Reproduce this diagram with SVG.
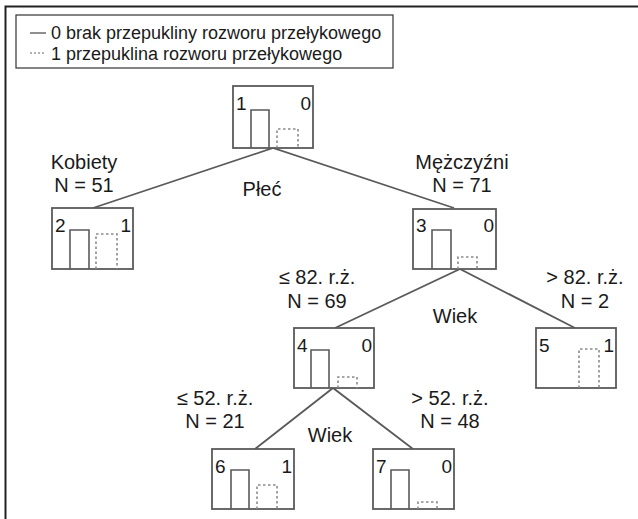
<svg xmlns="http://www.w3.org/2000/svg" width="638" height="519" viewBox="0 0 638 519">
<style>
text{font-family:"Liberation Sans",Arial,sans-serif;font-size:20px;fill:#1a1a1a}
.lg{font-size:18px}
.n{font-size:19px}
.c{text-anchor:middle}
.e{text-anchor:end}
.box{fill:#fff;stroke:#5a5a5a;stroke-width:1.8}
.bar{fill:none;stroke:#5a5a5a;stroke-width:1.6}
.dot{fill:none;stroke:#8a8a8a;stroke-width:1.6;stroke-dasharray:2.5,2.5}
.conn{fill:none;stroke:#5a5a5a;stroke-width:1.8}
</style>
<rect x="0" y="0" width="638" height="519" fill="#fff"/>
<path d="M5.5,525 V6.5 H645" fill="none" stroke="#222" stroke-width="2"/>
<g id="legend">
<rect x="16" y="15" width="377" height="53" fill="#fff" stroke="#333" stroke-width="1.2"/>
<line x1="30" y1="33" x2="46" y2="33" stroke="#444" stroke-width="1.2"/>
<line x1="30" y1="53" x2="46" y2="53" stroke="#666" stroke-width="1.2" stroke-dasharray="2,2"/>
<text class="lg" x="51" y="39">0 brak przepukliny rozworu przełykowego</text>
<text class="lg" x="51" y="60">1 przepuklina rozworu przełykowego</text>
</g>
<g id="connectors">
<polyline class="conn" points="93,208 273,148 454,208"/>
<polyline class="conn" points="335,328 460,269 575,328"/>
<polyline class="conn" points="255,449 333,388 413,449"/>
</g>
<g id="node1">
<rect class="box" x="233" y="86" width="80" height="62"/>
<text class="n" x="236" y="110">1</text><text class="n e" x="311" y="110">0</text>
<polyline class="bar" points="251,148 251,110 269,110 269,148"/>
<polyline class="dot" points="277,148 277,129 298,129 298,148"/>
</g>
<g id="node2">
<rect class="box" x="52" y="208" width="81" height="61"/>
<text class="n" x="55" y="232">2</text><text class="n e" x="131" y="232">1</text>
<polyline class="bar" points="70,269 70,230 89,230 89,269"/>
<polyline class="dot" points="96,269 96,234 117,234 117,269"/>
</g>
<g id="node3">
<rect class="box" x="413" y="209" width="83" height="60"/>
<text class="n" x="416" y="232">3</text><text class="n e" x="494" y="232">0</text>
<polyline class="bar" points="432,269 432,230 451,230 451,269"/>
<polyline class="dot" points="458,269 458,257 477,257 477,269"/>
</g>
<g id="node4">
<rect class="box" x="294" y="328" width="80" height="60"/>
<text class="n" x="297" y="352">4</text><text class="n e" x="372" y="352">0</text>
<polyline class="bar" points="311,388 311,350 329,350 329,388"/>
<polyline class="dot" points="338,388 338,377 357,377 357,388"/>
</g>
<g id="node5">
<rect class="box" x="536" y="328" width="80" height="60"/>
<text class="n" x="539" y="352">5</text><text class="n e" x="614" y="352">1</text>
<polyline class="dot" points="579,388 579,349 599,349 599,388"/>
</g>
<g id="node6">
<rect class="box" x="212" y="449" width="82" height="60"/>
<text class="n" x="215" y="473">6</text><text class="n e" x="292" y="473">1</text>
<polyline class="bar" points="231,509 231,470 249,470 249,509"/>
<polyline class="dot" points="257,509 257,485 277,485 277,509"/>
</g>
<g id="node7">
<rect class="box" x="373" y="449" width="81" height="60"/>
<text class="n" x="376" y="473">7</text><text class="n e" x="452" y="473">0</text>
<polyline class="bar" points="391,509 391,470 409,470 409,509"/>
<polyline class="dot" points="418,509 418,502 437,502 437,509"/>
</g>
<g id="labels">
<text class="c" x="84" y="169">Kobiety</text>
<text class="c" x="84" y="192">N = 51</text>
<text class="c" x="262" y="196">Płeć</text>
<text class="c" x="462" y="169">Mężczyźni</text>
<text class="c" x="462" y="192">N = 71</text>
<text class="c" x="317" y="284">≤ 82. r.ż.</text>
<text class="c" x="317" y="308">N = 69</text>
<text class="c" x="455" y="323">Wiek</text>
<text class="c" x="585" y="284">&gt; 82. r.ż.</text>
<text class="c" x="585" y="308">N = 2</text>
<text class="c" x="215" y="405">≤ 52. r.ż.</text>
<text class="c" x="215" y="428">N = 21</text>
<text class="c" x="330" y="442">Wiek</text>
<text class="c" x="450" y="405">&gt; 52. r.ż.</text>
<text class="c" x="450" y="428">N = 48</text>
</g>
</svg>
